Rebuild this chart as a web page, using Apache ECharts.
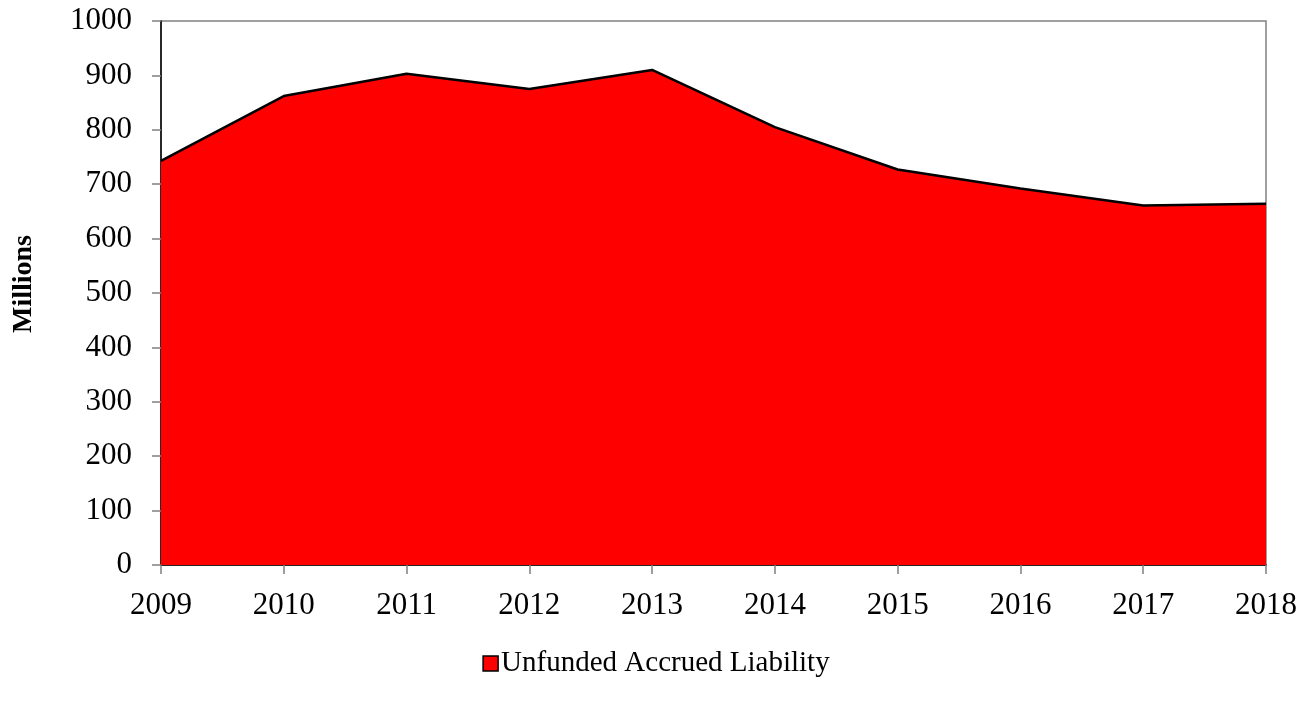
<!DOCTYPE html>
<html>
<head>
<meta charset="utf-8">
<script src="https://cdn.jsdelivr.net/npm/echarts@6/dist/echarts.min.js"></script>
<style>html,body{margin:0;padding:0;background:#fff;}#c{width:1312px;height:706px;}</style>
</head>
<body>
<div id="c"></div>
<script>
const years = ['2009','2010','2011','2012','2013','2014','2015','2016','2017','2018'];
const liability = [743, 862, 903, 875, 910, 805, 727, 692, 661, 664];
const seriesName = 'Unfunded Accrued Liability';
const font = '"Liberation Serif", "Times New Roman", serif';

const chart = echarts.init(document.getElementById('c'));
chart.setOption({
  animation: false,
  grid: { left: 161, right: 46, top: 21, bottom: 141, show: true, borderColor: '#808080', borderWidth: 1.5, backgroundColor: 'transparent' },
  legend: {
    data: [{ name: seriesName, icon: 'rect' }],
    bottom: 23, left: 'center',
    itemWidth: 15, itemHeight: 15,
    textStyle: { fontFamily: font, fontSize: 29, color: '#000', padding: [0,0,0,-2] },
    itemStyle: { borderColor: '#000', borderWidth: 1.5 }
  },
  xAxis: {
    type: 'category', data: years, boundaryGap: false,
    axisLine: { lineStyle: { color: '#000', width: 1.5 } },
    axisTick: { show: true, length: 9, alignWithLabel: true, lineStyle: { color: '#808080', width: 1.5 } },
    axisLabel: { fontFamily: font, fontSize: 31, color: '#000', margin: 25 },
    splitLine: { show: false }
  },
  yAxis: {
    type: 'value', min: 0, max: 1000, interval: 100,
    name: 'Millions', nameLocation: 'middle', nameGap: 123, nameRotate: 90,
    nameTextStyle: { fontFamily: font, fontSize: 28, fontWeight: 'bold', color: '#000', padding: [0,0,0,18] },
    axisLine: { show: true, lineStyle: { color: '#000', width: 1.5 } },
    axisTick: { show: true, length: 9, lineStyle: { color: '#808080', width: 1.5 } },
    axisLabel: { fontFamily: font, fontSize: 31, color: '#000', margin: 29, formatter: v => String(v) },
    splitLine: { show: false }
  },
  series: [{
    name: seriesName, type: 'line', data: liability,
    symbol: 'none',
    lineStyle: { color: '#000', width: 2.5 },
    itemStyle: { color: '#ff0000', borderColor: '#000', borderWidth: 1.5 },
    areaStyle: { color: '#ff0000', opacity: 1 }
  }]
});
</script>
</body>
</html>
